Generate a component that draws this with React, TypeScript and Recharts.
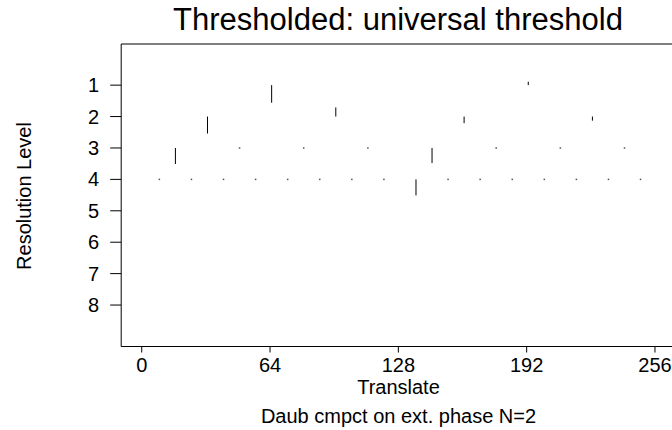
import React from "react";
import {
  ComposedChart,
  XAxis,
  YAxis,
  Scatter,
  ReferenceLine,
  ReferenceArea,
} from "recharts";

// ---- data ----
const xTicks = [0, 64, 128, 192, 256];
const levelTicks = [1, 2, 3, 4, 5, 6, 7, 8];

const level1X = [64.8, 192.8];
const level1Coef = [0.56, -0.11];

const level2X = [32.8, 96.8, 160.8, 224.8];
const level2Coef = [0.54, -0.29, 0.21, 0.13];

const level3X = [16.8, 48.8, 80.8, 112.8, 144.8, 176.8, 208.8, 240.8];
const level3Coef = [0.51, 0, 0, 0, 0.48, 0, 0, 0];

const level4X = [
  8.8, 24.8, 40.8, 56.8, 72.8, 88.8, 104.8, 120.8, 136.8, 152.8, 168.8, 184.8,
  200.8, 216.8, 232.8, 248.8,
];
const level4Coef = [0, 0, 0, 0, 0, 0, 0, 0, 0.51, 0, 0, 0, 0, 0, 0, 0];

const titleText = "Thresholded: universal threshold";
const xLabel = "Translate";
const subLabel = "Daub cmpct on ext. phase N=2";
const yLabel = "Resolution Level";

type Coef = { x: number; level: number; coef: number };

const allCoefs: Coef[] = [
  ...level1X.map((x, i) => ({ x, level: 1, coef: level1Coef[i] })),
  ...level2X.map((x, i) => ({ x, level: 2, coef: level2Coef[i] })),
  ...level3X.map((x, i) => ({ x, level: 3, coef: level3Coef[i] })),
  ...level4X.map((x, i) => ({ x, level: 4, coef: level4Coef[i] })),
];

const nonZero = allCoefs.filter((c) => c.coef !== 0);
const zeros = allCoefs.filter((c) => c.coef === 0).map((c) => ({ x: c.x, y: c.level }));

const FONT = '"Liberation Sans", Arial, Helvetica, sans-serif';

const DotShape = (props: any) => {
  const { cx, cy } = props;
  return <rect x={cx - 0.75} y={cy - 0.75} width={1.5} height={1.5} fill="#555" />;
};

export default function App() {
  return (
    <div
      style={{
        position: "fixed",
        left: 0,
        top: 0,
        width: 672,
        height: 430,
        overflow: "hidden",
        background: "#fff",
        fontFamily: FONT,
      }}
    >
      <ComposedChart
        width={680}
        height={430}
        margin={{ top: 44, right: 4.5, bottom: 43.5, left: 0 }}
        style={{ position: "absolute", left: 0, top: 0 }}
      >
        <XAxis
          dataKey="x"
          type="number"
          domain={[-10.24, 266.24]}
          ticks={xTicks}
          allowDataOverflow
          axisLine={false}
          tickLine={{ stroke: "#000" }}
          tickSize={6}
          tickMargin={5}
          height={40}
          interval={0}
          tick={{ fill: "#000", fontSize: 20, fontFamily: FONT }}
        />
        <YAxis
          dataKey="y"
          type="number"
          reversed
          domain={[-0.31, 9.32]}
          ticks={levelTicks}
          allowDataOverflow
          axisLine={false}
          tickLine={{ stroke: "#000" }}
          tickSize={11}
          tickMargin={11}
          width={121.2}
          interval={0}
          tick={{ fill: "#000", fontSize: 20, fontFamily: FONT }}
        />
        <ReferenceArea
          x1={-10.24}
          x2={266.24}
          y1={-0.31}
          y2={9.32}
          fill="none"
          stroke="#000"
          strokeWidth={1}
          ifOverflow="visible"
        />
        {nonZero.map((c, i) => (
          <ReferenceLine
            key={i}
            segment={[
              { x: c.x, y: c.level },
              { x: c.x, y: c.level + c.coef },
            ]}
            stroke="#000"
            strokeWidth={1}
            ifOverflow="visible"
          />
        ))}
        <Scatter data={zeros} shape={<DotShape />} isAnimationActive={false} />
      </ComposedChart>

      <div
        style={{
          position: "absolute",
          left: 398 - 350,
          width: 700,
          top: 30 - 0.8465 * 31,
          fontSize: 31,
          lineHeight: "31px",
          textAlign: "center",
          color: "#000",
          whiteSpace: "nowrap",
        }}
      >
        {titleText}
      </div>
      <div
        style={{
          position: "absolute",
          left: 398.5 - 200,
          width: 400,
          top: 394 - 0.8465 * 20,
          fontSize: 20,
          lineHeight: "20px",
          textAlign: "center",
          color: "#000",
          whiteSpace: "nowrap",
        }}
      >
        {xLabel}
      </div>
      <div
        style={{
          position: "absolute",
          left: 398.5 - 250,
          width: 500,
          top: 423 - 0.8465 * 20,
          fontSize: 20,
          lineHeight: "20px",
          textAlign: "center",
          color: "#000",
          whiteSpace: "nowrap",
        }}
      >
        {subLabel}
      </div>
      <div
        style={{
          position: "absolute",
          left: 24 - 100,
          top: 196.3 - 10,
          width: 200,
          height: 20,
          fontSize: 20,
          lineHeight: "20px",
          textAlign: "center",
          color: "#000",
          whiteSpace: "nowrap",
          transform: "rotate(-90deg)",
          transformOrigin: "50% 50%",
        }}
      >
        {yLabel}
      </div>
    </div>
  );
}
